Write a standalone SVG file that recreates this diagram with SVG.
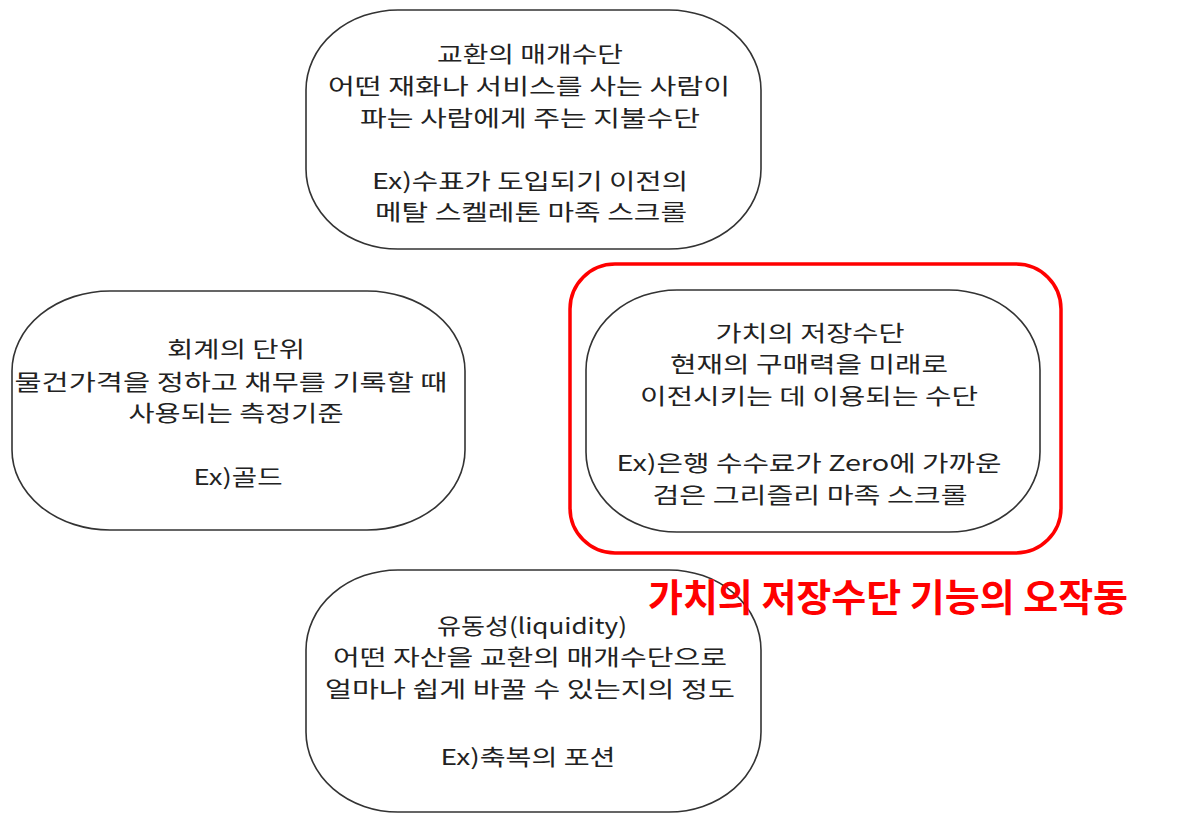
<svg xmlns="http://www.w3.org/2000/svg" width="1200" height="823" viewBox="0 0 1200 823">
<style>
.pill{fill:#fff;stroke:#333;stroke-width:1.6}
.t{font-family:"Noto Sans CJK KR","Liberation Sans",sans-serif;font-size:22px;fill:#222;text-anchor:middle}
.hl{fill:none;stroke:#ff0000;stroke-width:3.5}
.red{font-family:"Noto Sans CJK KR","Liberation Sans",sans-serif;font-size:38px;font-weight:bold;fill:#ff0000;text-anchor:middle}
</style>
<rect width="1200" height="823" fill="#fff"/>
<g id="connectors"></g>
<g id="node-exchange">
<rect class="pill" x="306" y="10" width="455" height="239" rx="92" ry="80"/>
<text class="t" x="530" y="62" textLength="186" lengthAdjust="spacingAndGlyphs">교환의 매개수단</text>
<text class="t" x="529" y="94" textLength="402" lengthAdjust="spacingAndGlyphs">어떤 재화나 서비스를 사는 사람이</text>
<text class="t" x="530" y="126" textLength="340" lengthAdjust="spacingAndGlyphs">파는 사람에게 주는 지불수단</text>
<text class="t" x="530" y="189" textLength="316" lengthAdjust="spacingAndGlyphs">Ex)수표가 도입되기 이전의</text>
<text class="t" x="531" y="220" textLength="312" lengthAdjust="spacingAndGlyphs">메탈 스켈레톤 마족 스크롤</text>
</g>
<g id="node-unit">
<rect class="pill" x="12" y="291" width="453" height="239" rx="98" ry="80"/>
<text class="t" x="236" y="357" textLength="138" lengthAdjust="spacingAndGlyphs">회계의 단위</text>
<text class="t" x="231" y="390" textLength="433" lengthAdjust="spacingAndGlyphs">물건가격을 정하고 채무를 기록할 때</text>
<text class="t" x="236" y="421" textLength="215" lengthAdjust="spacingAndGlyphs">사용되는 측정기준</text>
<text class="t" x="238" y="485" textLength="89" lengthAdjust="spacingAndGlyphs">Ex)골드</text>
</g>
<g id="node-store">
<rect class="pill" x="586" y="290" width="454" height="242" rx="91" ry="80"/>
<text class="t" x="810" y="341" textLength="189" lengthAdjust="spacingAndGlyphs">가치의 저장수단</text>
<text class="t" x="809" y="372" textLength="278" lengthAdjust="spacingAndGlyphs">현재의 구매력을 미래로</text>
<text class="t" x="809" y="404" textLength="338" lengthAdjust="spacingAndGlyphs">이전시키는 데 이용되는 수단</text>
<text class="t" x="809" y="471" textLength="385" lengthAdjust="spacingAndGlyphs">Ex)은행 수수료가 Zero에 가까운</text>
<text class="t" x="810" y="503" textLength="315" lengthAdjust="spacingAndGlyphs">검은 그리즐리 마족 스크롤</text>
</g>
<g id="node-liquidity">
<rect class="pill" x="306" y="570" width="455" height="242" rx="92" ry="80"/>
<text class="t" x="532" y="634" textLength="190" lengthAdjust="spacingAndGlyphs">유동성(liquidity)</text>
<text class="t" x="530" y="665" textLength="394" lengthAdjust="spacingAndGlyphs">어떤 자산을 교환의 매개수단으로</text>
<text class="t" x="530" y="697" textLength="410" lengthAdjust="spacingAndGlyphs">얼마나 쉽게 바꿀 수 있는지의 정도</text>
<text class="t" x="528" y="765" textLength="175" lengthAdjust="spacingAndGlyphs">Ex)축복의 포션</text>
</g>
<g id="highlight">
<rect class="hl" x="570" y="264" width="491" height="289" rx="45" ry="45"/>
<text class="red" x="888" y="611" textLength="480" lengthAdjust="spacingAndGlyphs">가치의 저장수단 기능의 오작동</text>
</g>
</svg>
